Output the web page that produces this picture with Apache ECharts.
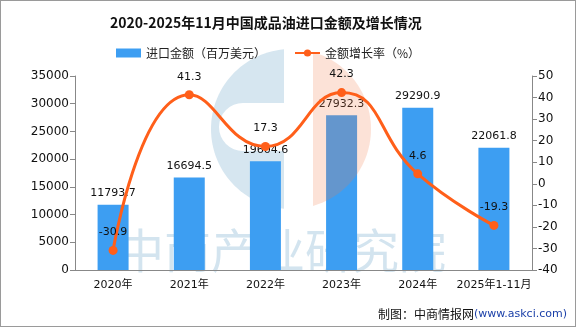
<!DOCTYPE html>
<html><head><meta charset="utf-8">
<script src="https://cdn.jsdelivr.net/npm/echarts@6/dist/echarts.min.js"></script>
<style>html,body{margin:0;padding:0;background:#fff}#c{width:574px;height:325px;border:1px solid #9a9a9a}</style>
</head><body><div id="c"></div>
<script>
var categories = ['2020年','2021年','2022年','2023年','2024年','2025年1-11月'];
var importValues = [11793.7, 16694.5, 19604.6, 27932.3, 29290.9, 22061.8];
var growthRates = [-30.9, 41.3, 17.3, 42.3, 4.6, -19.3];
var leftTicks = [0, 35000, 5000];
var rightTicks = [-40, 50, 10];
var FONT = '"DejaVu Sans","Noto Sans CJK SC",sans-serif';

// watermark logo shapes (decoration only)
var cx = 290, cy = 128, R = 80;
function arcPts(a0, a1, n) { var p = []; for (var i = 0; i <= n; i++) { var a = a0 + (a1 - a0) * i / n; p.push([cx + R * Math.cos(a), cy + R * Math.sin(a)]); } return p; }
var peachA = Math.acos(22 / R);
var peach = arcPts(-peachA, peachA, 40);
var blueA = Math.acos(-7 / R);
var blue = arcPts(blueA, 2 * Math.PI - blueA, 60);

var chart = echarts.init(document.getElementById('c'));
chart.setOption({
  animation: false,
  backgroundColor: '#fff',
  title: {text: '2020-2025年11月中国成品油进口金额及增长情况', left: 104, top: 10,
    textStyle: {fontFamily: '"Noto Sans CJK SC"', fontWeight: 'bold', fontSize: 14, color: '#111'}},
  legend: {top: 41, left: 110, itemGap: 28, itemWidth: 25, itemHeight: 9,
    textStyle: {fontFamily: '"Noto Sans CJK SC"', fontSize: 12, color: '#222'},
    data: [{name: '进口金额（百万美元）', icon: 'rect'}, {name: '金额增长率（%）'}]},
  grid: {left: 74, right: 43, top: 75, bottom: 56},
  xAxis: {type: 'category', data: categories,
    axisLine: {lineStyle: {color: '#888'}}, axisTick: {alignWithLabel: false, length: 5, lineStyle: {color: '#888'}},
    axisLabel: {interval: 0, color: '#111', fontFamily: FONT, fontSize: 11, margin: 10}},
  yAxis: [
    {type: 'value', min: leftTicks[0], max: leftTicks[1], interval: leftTicks[2], splitLine: {show: false},
     axisLine: {show: true, lineStyle: {color: '#888'}}, axisTick: {show: true, length: 5, lineStyle: {color: '#888'}},
     axisLabel: {color: '#111', fontFamily: FONT, fontSize: 12, margin: 6, formatter: function (v) { return String(v); }}},
    {type: 'value', min: rightTicks[0], max: rightTicks[1], interval: rightTicks[2], splitLine: {show: false},
     axisLine: {show: true, lineStyle: {color: '#888'}}, axisTick: {show: true, length: 5, lineStyle: {color: '#888'}},
     axisLabel: {color: '#111', fontFamily: FONT, fontSize: 12, margin: 6, formatter: function (v) { return String(v); }}}
  ],
  series: [
    {name: '进口金额（百万美元）', type: 'bar', data: importValues, barWidth: 31, z: 2,
     itemStyle: {color: '#3d9ef2'},
     label: {show: true, position: 'top', color: '#111', fontFamily: FONT, fontSize: 11, distance: 6}},
    {name: '金额增长率（%）', type: 'line', yAxisIndex: 1, data: growthRates, smooth: true, z: 4,
     symbol: 'circle', symbolSize: 9, itemStyle: {color: '#ff5f1a'}, lineStyle: {color: '#ff5f1a', width: 3},
     label: {show: true, position: 'top', color: '#111', fontFamily: FONT, fontSize: 11, distance: 8}}
  ],
  graphic: [
    {type: 'polygon', z: -10, shape: {points: blue}, style: {fill: '#d6e6f0'}, silent: true},
    {type: 'rect', z: -9, shape: {x: 218, y: 102, width: 65, height: 48, r: [24, 0, 0, 24]}, style: {fill: '#fff'}, silent: true},
    {type: 'text', z: -8, left: 116, top: 226, style: {text: '中商产业研究院', fontSize: 47, fontFamily: '"Noto Sans CJK SC"', fill: '#d3e4ef'}, silent: true},
    {type: 'polygon', z: 3, shape: {points: peach}, style: {fill: 'rgba(241,121,75,0.22)'}, silent: true},
    {type: 'text', right: 8, bottom: 6, style: {rich: {a: {fontFamily: '"Noto Sans CJK SC"', fontSize: 12, fill: '#111'}, b: {fontFamily: '"DejaVu Sans"', fontSize: 11, fill: '#1a3fa8'}}, text: '{a|制图：中商情报网}{b|(www.askci.com)}'}}
  ]
});
</script></body></html>
